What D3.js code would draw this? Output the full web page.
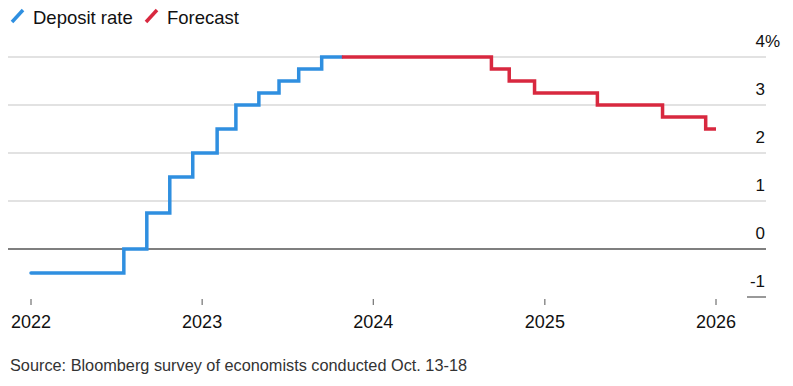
<!DOCTYPE html>
<html>
<head>
<meta charset="utf-8">
<script src="https://cdn.jsdelivr.net/npm/d3@7"></script>
<style>
	body { margin: 0; background: #fff; }
	svg text { font-family: Arial, "Liberation Sans", Helvetica, sans-serif; fill: #111; }
</style>
</head>
<body>
<svg id="chart" width="793" height="386"></svg>
<script>
// ECB deposit rate, actual
const depositDates = ['2022-01-01', '2022-07-18', '2022-09-05', '2022-10-24', '2022-12-12',
	'2023-02-02', '2023-03-14', '2023-05-02', '2023-06-14', '2023-07-26', '2023-09-13', '2023-10-26'];
const depositValues = [-0.5, 0, 0.75, 1.5, 2, 2.5, 3, 3.25, 3.5, 3.75, 4, 4];

// survey forecast
const forecastDates = ['2023-10-26', '2024-09-09', '2024-10-17', '2024-12-10', '2025-04-23',
	'2025-09-09', '2025-12-10', '2026-01-01'];
const forecastValues = [4, 3.75, 3.5, 3.25, 3, 2.75, 2.5, 2.5];

const yTicks = [-1, 0, 1, 2, 3, 4];
const xTickYears = [2022, 2023, 2024, 2025, 2026];

const legendItems = [
	{ label: 'Deposit rate', color: '#2f8fe0' },
	{ label: 'Forecast', color: '#d8283f' }
];

const parse = d3.timeParse('%Y-%m-%d');
const deposit = depositDates.map((d, i) => ({ date: parse(d), value: depositValues[i] }));
const forecast = forecastDates.map((d, i) => ({ date: parse(d), value: forecastValues[i] }));

const svg = d3.select('#chart');

const x = d3.scaleTime()
	.domain([new Date(2022, 0, 1), new Date(2026, 0, 1)])
	.range([31, 716]);

const y = d3.scaleLinear()
	.domain([-1, 4])
	.range([297, 57]);

const gridLeft = 8, gridRight = 766;

// gridlines
svg.append('g')
	.selectAll('line')
	.data(yTicks.filter(t => t > 0))
	.enter().append('line')
		.attr('x1', gridLeft)
		.attr('x2', gridRight)
		.attr('y1', d => y(d))
		.attr('y2', d => y(d))
		.attr('stroke', '#d9d9d9')
		.attr('stroke-width', 1.5);

// zero line (under the series)
svg.append('line')
	.attr('x1', gridLeft).attr('x2', gridRight)
	.attr('y1', y(0)).attr('y2', y(0))
	.attr('stroke', '#000')
	.attr('stroke-width', 1.2);

// -1 only shows as a short stub on the right
svg.append('line')
	.attr('x1', 747).attr('x2', gridRight)
	.attr('y1', y(-1)).attr('y2', y(-1))
	.attr('stroke', '#777')
	.attr('stroke-width', 1.5);

// y labels, numbers right aligned, % hangs out
svg.append('g')
	.selectAll('text')
	.data(yTicks)
	.enter().append('text')
		.attr('x', 765)
		.attr('y', d => y(d) - 10)
		.attr('text-anchor', 'end')
		.attr('font-size', '17px')
		.text(d => d);

svg.append('text')
	.attr('x', 765)
	.attr('y', y(4) - 10)
	.attr('font-size', '17px')
	.text('%');

// x axis ticks + labels
const xAxis = svg.append('g').attr('class', 'x-axis');
xAxis.selectAll('line')
	.data(xTickYears)
	.enter().append('line')
		.attr('x1', d => x(new Date(d, 0, 1)))
		.attr('x2', d => x(new Date(d, 0, 1)))
		.attr('y1', 299)
		.attr('y2', 305)
		.attr('stroke', '#555')
		.attr('stroke-width', 1);

xAxis.selectAll('text')
	.data(xTickYears)
	.enter().append('text')
		.attr('x', d => x(new Date(d, 0, 1)))
		.attr('y', 328)
		.attr('text-anchor', 'middle')
		.attr('font-size', '18px')
		.text(d => d);

// lines
const line = d3.line()
	.x(d => x(d.date))
	.y(d => y(d.value))
	.curve(d3.curveStepAfter);

svg.append('path')
	.datum(deposit)
	.attr('d', line)
	.attr('fill', 'none')
	.attr('stroke', legendItems[0].color)
	.attr('stroke-width', 3.5)
	.attr('stroke-linecap', 'round');

svg.append('path')
	.datum(forecast)
	.attr('d', line)
	.attr('fill', 'none')
	.attr('stroke', legendItems[1].color)
	.attr('stroke-width', 3.5)
	.attr('stroke-linecap', 'butt');

// legend
const legendX = [12, 146];
const legend = svg.append('g')
	.selectAll('g')
	.data(legendItems)
	.enter().append('g')
		.attr('transform', (d, i) => 'translate(' + legendX[i] + ',0)');

legend.append('line')
	.attr('x1', 0).attr('y1', 22)
	.attr('x2', 11).attr('y2', 10)
	.attr('stroke', d => d.color)
	.attr('stroke-width', 3.5);

legend.append('text')
	.attr('x', 21)
	.attr('y', 24)
	.attr('font-size', '18.5px')
	.text(d => d.label);

// source
svg.append('text')
	.attr('x', 10)
	.attr('y', 371)
	.attr('font-size', '16.3px')
	.style('fill', '#333')
	.text('Source: Bloomberg survey of economists conducted Oct. 13-18');
</script>
</body>
</html>
